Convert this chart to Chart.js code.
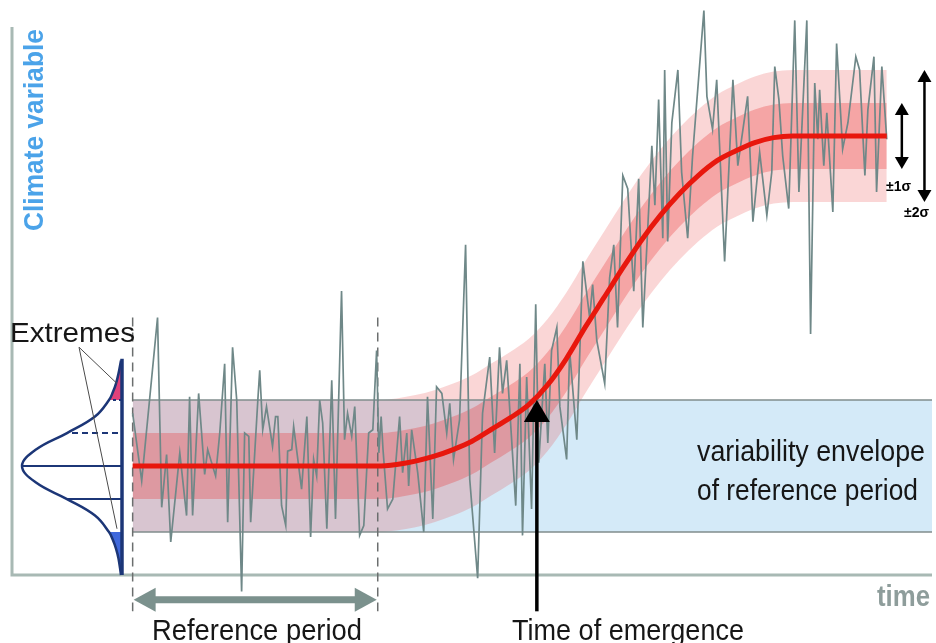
<!doctype html>
<html lang="en">
<head>
<meta charset="utf-8">
<title>Time of emergence</title>
<script src="https://cdn.jsdelivr.net/npm/chart.js@4"></script>
<style>
  html, body { margin: 0; padding: 0; background: #fff; }
  .chartBox { width: 936px; height: 643px; position: relative; }
</style>
</head>
<body>
<div class="chartBox"><canvas id="myChart"></canvas></div>
<script>
// y values are in units of the reference-period sigma, x in years
const meanYears = [1900, 1965, 1970, 1975, 1980, 1985, 1990, 1995, 2000, 2005, 2010, 2015, 2020, 2025, 2030, 2035, 2040, 2045, 2050, 2055, 2060, 2065, 2070, 2075, 2100];
const meanValues = [0, 0, 0.05, 0.15, 0.3, 0.5, 0.75, 1.1, 1.45, 1.85, 2.45, 3.25, 4.2, 5.1, 6.0, 6.85, 7.6, 8.25, 8.8, 9.25, 9.55, 9.8, 9.95, 10, 10];

const noiseYears = [1900.0, 1902.4, 1906.6, 1907.7, 1909.0, 1910.1, 1912.5, 1914.3, 1915.1, 1915.9,
  1917.5, 1919.1, 1919.9, 1922.0, 1923.1, 1924.4, 1925.2, 1926.5, 1927.6, 1928.9,
  1929.7, 1930.8, 1931.3, 1933.2, 1933.7, 1934.5, 1935.5, 1937.1, 1937.9, 1938.5,
  1939.5, 1940.6, 1941.1, 1942.2, 1942.7, 1944.8, 1946.2, 1947.2, 1948.0, 1948.8,
  1949.6, 1950.4, 1951.5, 1952.8, 1953.8, 1955.4, 1956.2, 1957.0, 1958.1, 1958.9,
  1960.2, 1961.3, 1962.6, 1963.7, 1964.7, 1965.3, 1965.9, 1966.4, 1967.6, 1969.0,
  1970.8, 1971.6, 1972.7, 1973.2, 1974.0, 1975.6, 1977.2, 1978.2, 1979.6, 1980.6,
  1982.0, 1983.3, 1984.1, 1985.1, 1986.7, 1988.3, 1989.4, 1991.5, 1992.8, 1994.7,
  1996.0, 1997.3, 1998.1, 1999.2, 2001.6, 2002.7, 2003.4, 2004.5, 2005.8, 2006.9,
  2007.7, 2009.3, 2010.1, 2011.1, 2012.5, 2013.3, 2015.1, 2015.9, 2017.8, 2019.4,
  2021.2, 2022.0, 2023.1, 2025.2, 2026.5, 2027.6, 2028.6, 2030.0, 2031.3, 2032.9,
  2034.2, 2035.3, 2037.7, 2038.5, 2039.5, 2040.6, 2041.1, 2041.9, 2043.0, 2044.6,
  2045.6, 2047.2, 2048.5, 2051.5, 2052.3, 2053.8, 2054.9, 2057.0, 2059.2, 2060.5,
  2063.1, 2064.5, 2066.3, 2068.2, 2069.5, 2070.3, 2071.4, 2072.4, 2074.0, 2075.6,
  2076.7, 2078.8, 2079.8, 2080.9, 2081.7, 2082.2, 2083.3, 2084.1, 2085.7, 2086.7,
  2088.3, 2089.7, 2091.8, 2092.8, 2094.2, 2095.0, 2096.6, 2097.3, 2098.7, 2100.0];
const noiseValues = [1.6, -0.45, 4.5, -1.25, 0.35, -2.3, 0.4, -1.5, 2.1, -1.5,
  2.2, -0.25, 0.5, -0.3, 1.0, 3.1, -1.7, 3.6, 2.0, -3.8,
  1.0, 0.9, -1.7, 2.0, 2.9, 1.1, 1.8, 0.6, 1.5, 1.5,
  -1.2, -1.8, 0.45, 0.5, 1.2, -0.7, 1.5, -2.15, 0.2, -0.3,
  2.0, 1.3, -1.9, 2.6, -1.6, 5.3, 0.8, 1.6, 0.9, 1.8,
  -2.1, -1.8, 1.0, 1.1, 3.5, 0.4, 1.5, 0.5, -1.3, -1.0,
  1.5, -0.2, 1.0, -0.6, 1.1, -0.2, -2.0, 2.1, -1.6, 2.4,
  2.2, 1.0, 1.9, 0.2, 1.4, 6.7, -0.4, -3.4, 1.6, 3.3,
  0.4, 3.6, 2.2, 3.2, -1.2, 3.1, -2.1, 2.7, -1.3, 4.9,
  0.1, 3.1, 0.7, 3.5, 4.2, 1.8, 0.2, 3.5, 0.8, 6.2,
  4.5, 5.5, 3.8, 2.5, 5.7, 6.7, 4.2, 8.8, 8.4, 5.3,
  8.7, 4.2, 9.7, 7.9, 11.1, 6.9, 12.0, 6.8, 10.4, 12.0,
  8.9, 6.9, 9.4, 13.8, 11.2, 10.2, 11.7, 6.2, 11.7, 9.1,
  11.2, 7.4, 9.5, 7.6, 8.9, 12.1, 11.1, 9.4, 7.8, 13.5,
  8.3, 13.5, 4.0, 11.6, 9.9, 11.4, 9.1, 10.7, 7.7, 12.8,
  9.6, 10.4, 12.4, 12.0, 8.8, 10.8, 12.4, 8.3, 12.1, 9.9];

// sideways distribution of the reference period (relative density at each level)
const distLevels = [3.2, 2.8, 2.5, 2.25, 2.0, 1.5, 1.0, 0.5, 0, -0.5, -1.0, -1.5, -2.0, -2.25, -2.5, -2.8, -3.3];
const distDensity = [0.01, 0.035, 0.06, 0.09, 0.13, 0.27, 0.55, 0.86, 1.0, 0.86, 0.55, 0.27, 0.13, 0.09, 0.06, 0.035, 0.01];

const envelopeYears = [1900, 2112];
const envelopeLevels = [2, -2];
const referencePeriod = [1900, 1965];
const emergenceYear = 2007.2;
const sigmaArrowYears = [2104, 2110];

const pts = (xs, ys) => xs.map((x, i) => ({ x, y: ys[i] }));
const shifted = d => meanYears.map((x, i) => ({ x, y: meanValues[i] + d }));
const distPts = (filter) => distLevels.map((y, i) => ({ x: distDensity[i], y })).filter(filter);

// tails closed along the baseline (density 0)
const pinkTail = distPts(p => p.y >= 2);
pinkTail.push({ x: 0, y: 2 }, { x: 0, y: pinkTail[0].y });
const blueTail = distPts(p => p.y <= -2);
blueTail.push({ x: 0, y: blueTail[blueTail.length - 1].y }, { x: 0, y: -2 });
const densityAt = lvl => distDensity[distLevels.indexOf(lvl)];

const base = { showLine: true, pointRadius: 0, borderWidth: 0, fill: false };
const ds = o => Object.assign({}, base, o);

const datasets = [
  // reference variability envelope
  ds({ data: pts(envelopeYears, [envelopeLevels[0], envelopeLevels[0]]), order: 30 }),
  ds({ data: pts(envelopeYears, [envelopeLevels[1], envelopeLevels[1]]), fill: '-1', backgroundColor: '#d4eaf8', order: 30 }),
  // +-2 sigma band
  ds({ data: shifted(2), cubicInterpolationMode: 'monotone', order: 25 }),
  ds({ data: shifted(-2), cubicInterpolationMode: 'monotone', fill: '-1', backgroundColor: 'rgba(232,62,62,0.21)', order: 25 }),
  // +-1 sigma band
  ds({ data: shifted(1), cubicInterpolationMode: 'monotone', order: 24 }),
  ds({ data: shifted(-1), cubicInterpolationMode: 'monotone', fill: '-1', backgroundColor: 'rgba(232,62,62,0.32)', order: 24 }),
  // envelope edges
  ds({ data: pts(envelopeYears, [envelopeLevels[0], envelopeLevels[0]]), borderColor: '#808d8d', borderWidth: 1.5, order: 20 }),
  ds({ data: pts(envelopeYears, [envelopeLevels[1], envelopeLevels[1]]), borderColor: '#808d8d', borderWidth: 1.5, order: 20 }),
  // reference period limits
  ds({ data: pts([referencePeriod[0], referencePeriod[0]], [4.5, -4.4]), borderColor: '#6b6e6e', borderWidth: 1.5, borderDash: [9, 6], clip: false, order: 18 }),
  ds({ data: pts([referencePeriod[1], referencePeriod[1]], [4.5, -4.4]), borderColor: '#6b6e6e', borderWidth: 1.5, borderDash: [9, 6], clip: false, order: 18 }),
  // distribution tails
  ds({ xAxisID: 'xd', data: pinkTail, fill: 'shape', backgroundColor: '#e0417b', clip: false, order: 17 }),
  ds({ xAxisID: 'xd', data: blueTail, fill: 'shape', backgroundColor: '#3f68dc', clip: false, order: 17 }),
  // distribution level lines
  ds({ xAxisID: 'xd', data: pts([densityAt(0), 0], [0, 0]), borderColor: '#1c3677', borderWidth: 2, order: 16 }),
  ds({ xAxisID: 'xd', data: pts([densityAt(-1), 0], [-1, -1]), borderColor: '#1c3677', borderWidth: 2, order: 16 }),
  ds({ xAxisID: 'xd', data: pts([densityAt(1) - 0.05, 0], [1, 1]), borderColor: '#1c3677', borderWidth: 2, borderDash: [6, 4], order: 16 }),
  ds({ xAxisID: 'xd', data: pts([densityAt(2) - 0.04, 0], [2, 2]), borderColor: '#1c3677', borderWidth: 2, borderDash: [3, 3], order: 16 }),
  // distribution baseline and curve
  ds({ xAxisID: 'xd', data: pts([0, 0], [-3.3, 3.25]), borderColor: '#1c3677', borderWidth: 3.5, clip: false, order: 15 }),
  ds({ xAxisID: 'xd', data: pts(distDensity, distLevels), borderColor: '#1c3677', borderWidth: 2.5, tension: 0.4, clip: false, order: 15 }),
  // yearly values
  ds({ data: pts(noiseYears, noiseValues), borderColor: '#6f8888', borderWidth: 1.7, clip: false, order: 5 }),
  // mean
  ds({ data: pts(meanYears, meanValues), borderColor: '#e8170d', borderWidth: 5, cubicInterpolationMode: 'monotone', order: 3 })
];

function arrowHead(ctx, tx, ty, dx, dy, len, half) {
  const bx = tx - dx * len, by = ty - dy * len;
  ctx.beginPath();
  ctx.moveTo(tx, ty);
  ctx.lineTo(bx - dy * half, by + dx * half);
  ctx.lineTo(bx + dy * half, by - dx * half);
  ctx.closePath();
  ctx.fill();
}

function fitText(ctx, text, x, y, font, width, align) {
  ctx.font = font;
  const sx = width / ctx.measureText(text).width;
  const left = align === 'center' ? x - width / 2 : align === 'right' ? x - width : x;
  ctx.save();
  ctx.translate(left, y);
  ctx.scale(sx, 1);
  ctx.textAlign = 'left';
  ctx.textBaseline = 'alphabetic';
  ctx.fillText(text, 0, 0);
  ctx.restore();
}

const decor = {
  id: 'decor',
  beforeDatasetsDraw(chart) {
    const { ctx, chartArea: a } = chart;
    ctx.save();
    ctx.strokeStyle = '#a8b9b4';
    ctx.lineWidth = 3;
    ctx.beginPath();
    ctx.moveTo(a.left, a.top);
    ctx.lineTo(a.left, a.bottom);
    ctx.lineTo(a.right, a.bottom);
    ctx.stroke();
    ctx.restore();
  },
  afterDatasetsDraw(chart) {
    const { ctx } = chart;
    const x = chart.scales.x, y = chart.scales.y, xd = chart.scales.xd;
    ctx.save();

    // reference period arrow
    const ry = y.getPixelForValue(-4.05);
    const r0 = x.getPixelForValue(referencePeriod[0]), r1 = x.getPixelForValue(referencePeriod[1]);
    ctx.strokeStyle = ctx.fillStyle = '#7b918d';
    ctx.lineWidth = 7;
    ctx.beginPath(); ctx.moveTo(r0 + 18, ry); ctx.lineTo(r1 - 18, ry); ctx.stroke();
    arrowHead(ctx, r0 + 1, ry, -1, 0, 22, 12);
    arrowHead(ctx, r1 - 1, ry, 1, 0, 22, 12);

    // time of emergence arrow
    const ex = x.getPixelForValue(emergenceYear);
    const et = y.getPixelForValue(2), eb = y.getPixelForValue(-4.4);
    ctx.strokeStyle = ctx.fillStyle = '#000';
    ctx.lineWidth = 3.5;
    ctx.beginPath(); ctx.moveTo(ex, eb); ctx.lineTo(ex, et + 18); ctx.stroke();
    arrowHead(ctx, ex, et, 0, -1, 22, 13);

    // sigma arrows
    ctx.lineWidth = 2.5;
    [1, 2].forEach((s, i) => {
      const sx = x.getPixelForValue(sigmaArrowYears[i]);
      const top = y.getPixelForValue(10 + s), bot = y.getPixelForValue(10 - s);
      ctx.beginPath(); ctx.moveTo(sx, top + 10); ctx.lineTo(sx, bot - 10); ctx.stroke();
      arrowHead(ctx, sx, top, 0, -1, 12, 7);
      arrowHead(ctx, sx, bot, 0, 1, 12, 7);
    });
    ctx.font = 'bold 14px "Liberation Sans", Arial, sans-serif';
    ctx.textAlign = 'left';
    ctx.fillText('±1σ', 886, 191);
    ctx.fillText('±2σ', 904, 217);

    // pointers from "Extremes"
    ctx.strokeStyle = '#4a4a4a';
    ctx.lineWidth = 1;
    const ax = xd.getPixelForValue(0.43), ay = y.getPixelForValue(3.6);
    ctx.beginPath();
    ctx.moveTo(ax, ay); ctx.lineTo(xd.getPixelForValue(0.05), y.getPixelForValue(2.5));
    ctx.moveTo(ax, ay); ctx.lineTo(xd.getPixelForValue(0.05), y.getPixelForValue(-1.9));
    ctx.stroke();

    // texts
    const font = 'px "Liberation Sans", Arial, sans-serif';
    ctx.fillStyle = '#161616';
    fitText(ctx, 'Extremes', 10, 342, '28' + font, 125, 'left');
    fitText(ctx, 'Reference period', 257, 640, '30' + font, 210, 'center');
    fitText(ctx, 'Time of emergence', 628, 640, '30' + font, 232, 'center');
    fitText(ctx, 'variability envelope', 697, 461, '29' + font, 228, 'left');
    fitText(ctx, 'of reference period', 697, 500, '29' + font, 221, 'left');

    ctx.fillStyle = '#8e9d9b';
    fitText(ctx, 'time', 930, 606, 'bold 29' + font, 53, 'right');

    ctx.fillStyle = '#4ba3e9';
    ctx.translate(43, 231);
    ctx.rotate(-Math.PI / 2);
    fitText(ctx, 'Climate variable', 0, 0, 'bold 28' + font, 202, 'left');
    ctx.restore();
  }
};

const config = {
  type: 'scatter',
  data: { datasets },
  options: {
    responsive: true,
    maintainAspectRatio: false,
    animation: false,
    events: [],
    layout: { padding: { left: 12, right: 4, top: 27, bottom: 68 } },
    plugins: { legend: { display: false }, tooltip: { enabled: false } },
    scales: {
      x: { type: 'linear', min: 1868, max: 2112, display: false },
      xd: { type: 'linear', axis: 'x', min: -8.1, max: 1.1, reverse: true, display: false },
      y: { type: 'linear', min: -3.3, max: 13.3, display: false }
    }
  },
  plugins: [decor]
};

const myChart = new Chart(document.getElementById('myChart'), config);
</script>
</body>
</html>
